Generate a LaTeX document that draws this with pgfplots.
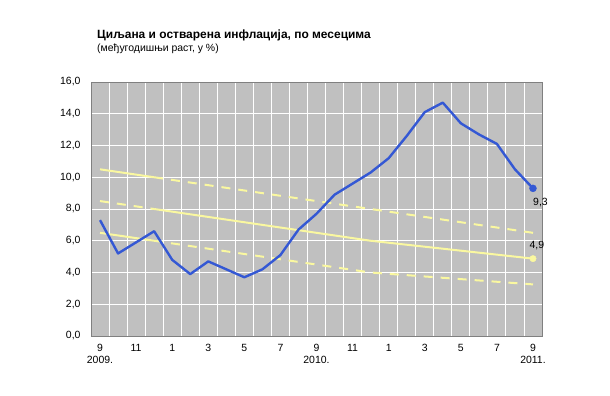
\documentclass[border=0pt]{standalone}
\usepackage{pgfplots}
\pgfplotsset{compat=1.18}
\usepackage{fontspec}
\setmainfont{Liberation Sans}
\definecolor{plotbg}{RGB}{192,192,192}
\definecolor{infl}{RGB}{52,88,212}
\definecolor{band}{RGB}{250,248,160}
\definecolor{axgray}{RGB}{128,128,128}
\begin{document}
\begin{tikzpicture}[x=1bp,y=1bp]
\path (0,0) rectangle (610,395);
\node[anchor=base west,inner sep=0pt,font=\bfseries\fontsize{12}{14}\selectfont] at (97,357) {Циљана и остварена инфлација, по месецима};
\node[anchor=base west,inner sep=0pt,font=\fontsize{10.5}{12}\selectfont] at (97,344) {(међугодишњи раст, у \%)};
\begin{axis}[
  at={(91bp,59bp)}, anchor=south west,
  scale only axis, width=451bp, height=254bp,
  xmin=-0.5, xmax=24.5, ymin=0, ymax=16,
  axis background/.style={fill=plotbg},
  axis line style={draw=axgray, line width=0.8pt},
  xtick={0,2,...,24},
  xticklabels={{9\\2009.},11,1,3,5,7,{9\\2010.},11,1,3,5,7,{9\\2011.}},
  xticklabel style={align=center, font=\fontsize{10.5}{12.5}\selectfont, inner sep=1pt},
  minor xtick={0.5,1.5,...,23.5},
  xminorgrids=true, xmajorgrids=false,
  ytick={0,2,...,16},
  ymajorgrids=true,
  grid style={draw=white, line width=0.9pt},
  minor grid style={draw=white, line width=0.9pt},
  major tick length=0pt, minor tick length=0pt,
  yticklabel style={font=\fontsize{10.5}{12}\selectfont},
  /pgf/number format/.cd, fixed, fixed zerofill, precision=1, use comma, assume math mode=true,
  /pgfplots/.cd,
  xtick align=outside,
  xticklabel shift=7bp, yticklabel shift=7bp,
  clip=false,
]
% band lines
\addplot[band, line width=2bp, dash pattern=on 9bp off 8bp] coordinates {(0,8.5) (3,8.0)};
\addplot[band, line width=2bp] coordinates {(3,8.0) (15,6.0) (24,4.875)};
\addplot[band, line width=2bp] coordinates {(0,10.5) (3,10.0)};
\addplot[band, line width=2bp, dash pattern=on 9bp off 8bp] coordinates {(3,10.0) (15,8.0) (24,6.5)};
\addplot[band, line width=2bp] coordinates {(0,6.5) (3,6.0)};
\addplot[band, line width=2bp, dash pattern=on 9bp off 8bp] coordinates {(3,6.0) (15,4.0) (24,3.25)};
\addplot[band, only marks, mark=*, mark size=3.2bp] coordinates {(24,4.875)};
% inflation
\addplot[infl, line width=2.4bp, line join=round] coordinates {
(0,7.3) (1,5.2) (2,5.9) (3,6.6) (4,4.8) (5,3.9) (6,4.7) (7,4.2) (8,3.7) (9,4.2) (10,5.1) (11,6.7) (12,7.7)
(13,8.9) (14,9.6) (15,10.3) (16,11.2) (17,12.6) (18,14.1) (19,14.7) (20,13.4) (21,12.7) (22,12.1) (23,10.5) (24,9.3)};
\addplot[infl, only marks, mark=*, mark size=3.5bp] coordinates {(24,9.3)};
\node[anchor=north west, font=\fontsize{10.5}{12}\selectfont, inner sep=0pt] at (axis cs:24,8.7) {9,3};
\node[anchor=south west, font=\fontsize{10.5}{12}\selectfont, inner sep=0pt] at (axis cs:23.8,5.4) {4,9};
\end{axis}
\end{tikzpicture}
\end{document}
